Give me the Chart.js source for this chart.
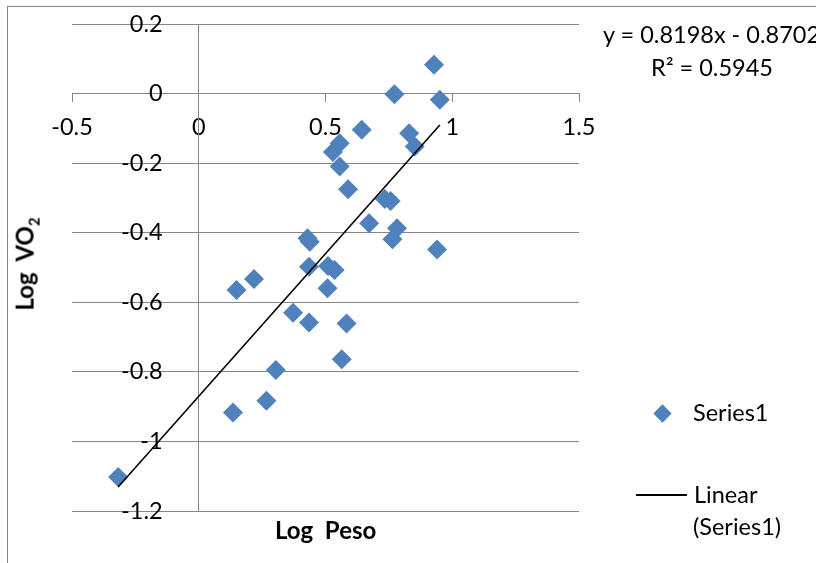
<!DOCTYPE html>
<html>
<head>
<meta charset="utf-8">
<title>Log VO2 vs Log Peso</title>
<script src="https://cdn.jsdelivr.net/npm/chart.js@4.4.1/dist/chart.umd.min.js"></script>
<style>
  html, body { margin: 0; padding: 0; background: #fff; }
  body { position: relative; width: 816px; height: 563px; overflow: hidden; font-family: Lato, "Open Sans", sans-serif; color: #000; }
  #frame { position: absolute; left: 7px; top: 6px; width: 900px; height: 700px; border: 1px solid #868686; box-sizing: border-box; }
  #wrap { position: absolute; left: 0; top: 0; width: 816px; height: 563px; }
  .txt { position: absolute; white-space: nowrap; font-size: 23.5px; line-height: 1; }
  .title { font-weight: bold; font-size: 24px; }
  .diamond { position: absolute; width: 13px; height: 13px; background: #4f81bd; transform: rotate(45deg); }
  .legline { position: absolute; height: 0; border-top: 2px solid #000; }
</style>
</head>
<body>
<div id="frame"></div>
<div id="wrap"><canvas id="chart" width="816" height="563"></canvas></div>

<div class="txt" style="left:603px; top:23px;">y = 0.8198x - 0.8702</div>
<div class="txt" style="left:651px; top:56px;">R² = 0.5945</div>

<div class="txt title" style="left:275px; top:518px;">Log&nbsp; Peso</div>
<div class="txt title" style="left:27px; top:264px; transform: translate(-50%, -50%) rotate(-90deg);">Log&nbsp; VO<sub style="font-size:15px;">2</sub></div>

<div class="diamond" style="left:656px; top:407px;"></div>
<div class="txt" style="left:693px; top:401px;">Series1</div>
<div class="legline" style="left:636px; top:494px; width:51px;"></div>
<div class="txt" style="left:694px; top:483px;">Linear</div>
<div class="txt" style="left:693px; top:515px;">(Series1)</div>

<script>
// scatter values
const logPeso = [-0.318, 0.135, 0.267, 0.304, 0.149, 0.218, 0.372, 0.435, 0.564, 0.583,
  0.435, 0.508, 0.510, 0.536, 0.429, 0.438, 0.672, 0.764, 0.782, 0.940,
  0.734, 0.757, 0.589, 0.556, 0.529, 0.556, 0.643, 0.830, 0.852, 0.772,
  0.951, 0.928];
const logVO2 = [-1.102, -0.917, -0.883, -0.795, -0.565, -0.533, -0.630, -0.658, -0.764, -0.661,
  -0.498, -0.560, -0.496, -0.507, -0.416, -0.426, -0.373, -0.419, -0.387, -0.448,
  -0.303, -0.309, -0.275, -0.210, -0.168, -0.143, -0.104, -0.114, -0.152, -0.002,
  -0.018, 0.083];

// trendline from the printed equation
const slope = 0.8198;
const intercept = -0.8702;

const xTicks = [-0.5, 0, 0.5, 1, 1.5];
const xTickLabels = ["-0.5", "0", "0.5", "1", "1.5"];
const yTicks = [-1.2, -1, -0.8, -0.6, -0.4, -0.2, 0, 0.2];
const yTickLabels = ["-1.2", "-1", "-0.8", "-0.6", "-0.4", "-0.2", "0", "0.2"];

const points = logPeso.map((x, i) => ({ x: x, y: logVO2[i] }));
const xMin = Math.min(...logPeso);
const xMax = Math.max(...logPeso);
const trend = [xMin, xMax].map((x) => ({ x: x, y: slope * x + intercept }));

const grey = "#868686";
const font = { family: "Lato, 'Open Sans', sans-serif", size: 23.5 };
// labels of an axis placed at x=0 sit right on the line, so pad them with spaces
const yPad = "      ";

new Chart(document.getElementById("chart"), {
  type: "scatter",
  data: {
    datasets: [
      {
        label: "Linear (Series1)",
        data: trend,
        showLine: true,
        borderColor: "#000",
        borderWidth: 1.6,
        pointRadius: 0,
        order: 0,
      },
      {
        label: "Series1",
        data: points,
        pointStyle: "rectRot",
        pointRadius: 10,
        backgroundColor: "#4f81bd",
        borderColor: "#4f81bd",
        borderWidth: 0,
        order: 1,
      },
    ],
  },
  options: {
    responsive: false,
    animation: false,
    layout: { padding: { left: 72, top: 24, right: 237, bottom: 52 } },
    plugins: { legend: { display: false }, tooltip: { enabled: false } },
    scales: {
      x: {
        type: "linear",
        position: { y: 0 },
        min: -0.5,
        max: 1.5,
        afterBuildTicks: (s) => { s.ticks = xTicks.map((v) => ({ value: v })); },
        ticks: {
          color: "#000",
          font: font,
          padding: 12,
          maxRotation: 0,
          callback: (v) => xTickLabels[xTicks.indexOf(v)],
        },
        grid: { drawOnChartArea: false, color: grey, tickLength: 8, tickWidth: 1 },
        border: { color: grey, width: 1 },
      },
      y: {
        type: "linear",
        position: { x: 0 },
        min: -1.2,
        max: 0.2,
        afterBuildTicks: (s) => { s.ticks = yTicks.map((v) => ({ value: v })); },
        ticks: {
          color: "#000",
          font: font,
          callback: (v) => yTickLabels[yTicks.indexOf(v)] + yPad,
        },
        grid: { color: grey, lineWidth: 1, tickLength: 8 },
        border: { color: grey, width: 1 },
      },
    },
  },
});
</script>
</body>
</html>
